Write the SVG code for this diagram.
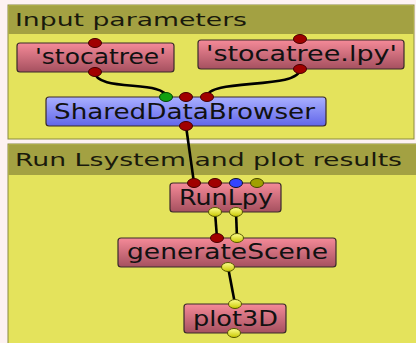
<svg xmlns="http://www.w3.org/2000/svg" width="416" height="343" viewBox="0 0 416 343">
<defs>
<linearGradient id="gPink" x1="0" y1="0" x2="0" y2="1"><stop offset="0" stop-color="#f58a98"/><stop offset="1" stop-color="#a5505f"/></linearGradient>
<linearGradient id="gBlue" x1="0" y1="0" x2="0" y2="1"><stop offset="0" stop-color="#a9b0ff"/><stop offset="1" stop-color="#6266ea"/></linearGradient>
<linearGradient id="gYel" x1="0" y1="0" x2="0" y2="1"><stop offset="0" stop-color="#ffff90"/><stop offset="1" stop-color="#c8c800"/></linearGradient>
<style>
.grp{fill:#e4e35c;stroke:#8a8a40;stroke-width:1}
.hdr{fill:#a3a142}
.ht{font-family:"DejaVu Sans",sans-serif;font-size:18.5px;fill:#1a1a0c}
.node{stroke:#3a2a2a;stroke-width:1.2}
.nt{font-family:"DejaVu Sans",sans-serif;font-size:21px;fill:#111}
.pr{fill:#a00000;stroke:#400;stroke-width:1}
.pg{fill:#10a010;stroke:#040;stroke-width:1}
.pb{fill:#3344ff;stroke:#112;stroke-width:1}
.po{fill:#a0a000;stroke:#440;stroke-width:1}
.py{fill:url(#gYel);stroke:#550;stroke-width:1}
.edge{fill:none;stroke:#000;stroke-width:2.6}
</style>
</defs>
<rect x="0" y="0" width="416" height="343" fill="#fdf2f2"/>
<g id="group1">
<rect class="grp" x="8" y="5" width="406" height="134"/>
<rect class="hdr" x="8.5" y="5.5" width="405" height="28.5"/>
<text class="ht" x="15" y="26" textLength="232" lengthAdjust="spacingAndGlyphs">Input parameters</text>
</g>
<g id="group2">
<rect class="grp" x="8" y="144" width="410" height="200"/>
<rect class="hdr" x="8.5" y="144.5" width="409" height="30.5"/>
<text class="ht" x="15" y="166" textLength="387" lengthAdjust="spacingAndGlyphs">Run Lsystem and plot results</text>
</g>
<g id="connectors">
<path class="edge" d="M95,72 C95,92 166,80 166,97"/>
<path class="edge" d="M300,69 C300,90 207,78 207,97"/>
<path class="edge" d="M186,126 L194,183"/>
<path class="edge" d="M215,212 L217,238"/>
<path class="edge" d="M236,212 L237,238"/>
<path class="edge" d="M228,267 L235,304"/>
</g>
<g id="n_stocatree">
<rect class="node" x="17" y="43" width="157" height="29" rx="3" fill="url(#gPink)"/>
<text class="nt" x="35" y="64" textLength="131" lengthAdjust="spacingAndGlyphs">'stocatree'</text>
<ellipse class="pr" cx="95" cy="43" rx="6.5" ry="4.5"/>
<ellipse class="pr" cx="95" cy="72" rx="6.5" ry="4.5"/>
</g>
<g id="n_stocatree_lpy">
<rect class="node" x="198" y="40" width="206" height="29" rx="3" fill="url(#gPink)"/>
<text class="nt" x="206" y="61" textLength="191" lengthAdjust="spacingAndGlyphs">'stocatree.lpy'</text>
<ellipse class="pr" cx="300" cy="39" rx="6.5" ry="4.5"/>
<ellipse class="pr" cx="300" cy="69" rx="6.5" ry="4.5"/>
</g>
<g id="n_shareddatabrowser">
<rect class="node" x="46" y="97" width="280" height="29" rx="3" fill="url(#gBlue)"/>
<text class="nt" x="54" y="119" textLength="261" lengthAdjust="spacingAndGlyphs">SharedDataBrowser</text>
<ellipse class="pg" cx="166" cy="97" rx="6.5" ry="4.5"/>
<ellipse class="pr" cx="186" cy="97" rx="6.5" ry="4.5"/>
<ellipse class="pr" cx="207" cy="97" rx="6.5" ry="4.5"/>
<ellipse class="pr" cx="186" cy="126" rx="6.5" ry="4.5"/>
</g>
<g id="n_runlpy">
<rect class="node" x="170" y="183" width="111" height="29" rx="3" fill="url(#gPink)"/>
<text class="nt" x="179" y="205" textLength="94" lengthAdjust="spacingAndGlyphs">RunLpy</text>
<ellipse class="pr" cx="194" cy="183" rx="6.5" ry="4.5"/>
<ellipse class="pr" cx="215" cy="183" rx="6.5" ry="4.5"/>
<ellipse class="pb" cx="236" cy="183" rx="6.5" ry="4.5"/>
<ellipse class="po" cx="257" cy="183" rx="6.5" ry="4.5"/>
<ellipse class="py" cx="215" cy="212" rx="6.5" ry="4.5"/>
<ellipse class="py" cx="236" cy="212" rx="6.5" ry="4.5"/>
</g>
<g id="n_generatescene">
<rect class="node" x="118" y="238" width="218" height="29" rx="3" fill="url(#gPink)"/>
<text class="nt" x="127" y="259" textLength="201" lengthAdjust="spacingAndGlyphs">generateScene</text>
<ellipse class="pr" cx="217" cy="238" rx="6.5" ry="4.5"/>
<ellipse class="py" cx="237" cy="238" rx="6.5" ry="4.5"/>
<ellipse class="py" cx="228" cy="267" rx="6.5" ry="4.5"/>
</g>
<g id="n_plot3d">
<rect class="node" x="184" y="304" width="102" height="29" rx="3" fill="url(#gPink)"/>
<text class="nt" x="193" y="326" textLength="85" lengthAdjust="spacingAndGlyphs">plot3D</text>
<ellipse class="py" cx="235" cy="304" rx="6.5" ry="4.5"/>
<ellipse class="py" cx="234" cy="333" rx="6.5" ry="4.5"/>
</g>
</svg>
